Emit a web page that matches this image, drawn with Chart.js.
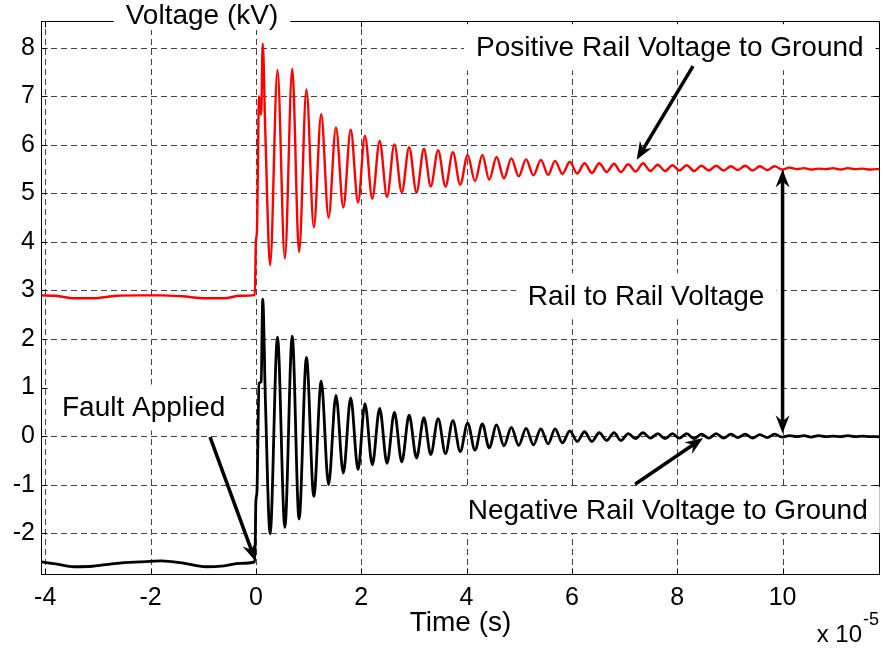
<!DOCTYPE html>
<html>
<head>
<meta charset="utf-8">
<title>Rail voltages after fault</title>
<script src="https://cdn.jsdelivr.net/npm/chart.js@4.4.0/dist/chart.umd.min.js"></script>
<style>
    html, body { margin: 0; padding: 0; background: #fff; }
    #wrap { width: 884px; height: 648px; }
</style>
</head>
<body>
<div id="wrap"><canvas id="rails" width="884" height="648"></canvas></div>
<script>
// time in units of 1e-5 s (peaks and troughs)
const timeAxis = [
    -4.08, -3.80, -3.45, -3.10, -2.65, -2.20, -1.80, -1.40, -0.95, -0.60, -0.30, -0.02,
    0.00, 0.02, 0.06, 0.10, 0.13, 0.18,
    0.27, 0.41, 0.55, 0.69, 0.82, 0.96, 1.10, 1.24, 1.38, 1.52, 1.66, 1.80,
    1.94, 2.07, 2.21, 2.35, 2.49, 2.63, 2.77, 2.91, 3.05, 3.19, 3.32, 3.46,
    3.60, 3.74, 3.88, 4.02, 4.16, 4.30, 4.43, 4.57, 4.71, 4.85, 4.99, 5.13,
    5.27, 5.41, 5.55, 5.68, 5.82, 5.96, 6.10, 6.24, 6.38, 6.52, 6.66, 6.80,
    6.93, 7.07, 7.21, 7.35, 7.49, 7.63, 7.77, 7.91, 8.04, 8.18, 8.32, 8.46,
    8.60, 8.74, 8.88, 9.02, 9.15, 9.29, 9.43, 9.57, 9.71, 9.85, 9.99, 10.13,
    10.27, 10.41, 10.54, 10.68, 10.82, 10.96, 11.10, 11.24, 11.38, 11.52, 11.65, 11.79,
    11.85
];

// kV
const positiveRail = [
    2.90, 2.89, 2.84, 2.84, 2.89, 2.90, 2.90, 2.88, 2.84, 2.84, 2.89, 2.91,
    4.00, 4.22, 7.00, 6.62, 8.08, 6.22,
    3.52, 7.54, 3.66, 7.57, 3.79, 7.14, 4.30, 6.63, 4.50, 6.36, 4.71, 6.31,
    4.81, 6.19, 4.89, 6.08, 4.93, 6.01, 5.02, 5.95, 5.02, 5.92, 5.14, 5.89,
    5.14, 5.85, 5.18, 5.79, 5.25, 5.79, 5.28, 5.75, 5.31, 5.72, 5.35, 5.70,
    5.37, 5.69, 5.38, 5.67, 5.40, 5.65, 5.41, 5.62, 5.42, 5.62, 5.44, 5.61,
    5.44, 5.60, 5.45, 5.62, 5.46, 5.59, 5.46, 5.58, 5.47, 5.58, 5.46, 5.57,
    5.47, 5.57, 5.47, 5.56, 5.48, 5.57, 5.47, 5.56, 5.48, 5.56, 5.49, 5.53,
    5.50, 5.52, 5.49, 5.51, 5.50, 5.52, 5.49, 5.52, 5.50, 5.51, 5.49, 5.50,
    5.50
];

const negativeRail = [
    -2.59, -2.63, -2.69, -2.68, -2.62, -2.59, -2.57, -2.61, -2.69, -2.67, -2.62, -2.59,
    -1.34, -1.15, 1.09, 1.12, 2.82, 0.76,
    -2.01, 2.04, -1.88, 2.06, -1.71, 1.62, -1.24, 1.13, -1.00, 0.84, -0.76, 0.79,
    -0.69, 0.67, -0.59, 0.57, -0.56, 0.49, -0.53, 0.43, -0.45, 0.38, -0.38, 0.36,
    -0.36, 0.32, -0.32, 0.27, -0.29, 0.25, -0.24, 0.23, -0.20, 0.18, -0.19, 0.16,
    -0.18, 0.15, -0.16, 0.15, -0.14, 0.11, -0.11, 0.09, -0.11, 0.07, -0.09, 0.07,
    -0.09, 0.05, -0.05, 0.07, -0.04, 0.05, -0.05, 0.05, -0.04, 0.05, -0.05, 0.04,
    -0.04, 0.05, -0.04, 0.04, -0.03, 0.04, -0.04, 0.03, -0.03, 0.04, -0.02, 0.01,
    -0.01, 0.01, -0.02, 0.01, -0.01, 0.00, -0.01, 0.01, -0.01, 0.00, -0.01, -0.01,
    -0.02
];

const timeTicks = [-4, -2, 0, 2, 4, 6, 8, 10];
const voltageTicks = [-2, -1, 0, 1, 2, 3, 4, 5, 6, 7, 8];

const FONT = 'Arial, "Liberation Sans", Helvetica, sans-serif';

// text annotations, centred at data positions
const notes = [
    { text: 'Positive Rail Voltage to Ground', x: 7.86, y: 8.01 },
    { text: 'Rail to Rail Voltage', x: 7.41, y: 2.88 },
    { text: 'Fault Applied', x: -2.13, y: 0.59 },
    { text: 'Negative Rail Voltage to Ground', x: 7.82, y: -1.52 },
];

// arrows, from tail to tip (data units)
const arrows = [
    { from: [8.30, 7.62], to: [7.23, 5.69], both: false },
    { from: [-0.87, -0.02], to: [-0.01, -2.57], both: false },
    { from: [7.20, -0.99], to: [8.49, -0.04], both: false },
    { from: [10.0, 0.06], to: [10.0, 5.49], both: true },
];

function arrowHead(ctx, x, y, ang) {
    ctx.save();
    ctx.translate(x, y);
    ctx.rotate(ang);
    ctx.beginPath();
    ctx.moveTo(0, 0);
    ctx.lineTo(-18, -7);
    ctx.lineTo(-12, 0);
    ctx.lineTo(-18, 7);
    ctx.closePath();
    ctx.fill();
    ctx.restore();
}

function drawArrow(ctx, x1, y1, x2, y2, both) {
    const ang = Math.atan2(y2 - y1, x2 - x1);
    const dx = Math.cos(ang) * 12, dy = Math.sin(ang) * 12;
    ctx.beginPath();
    ctx.moveTo(both ? x1 + dx : x1, both ? y1 + dy : y1);
    ctx.lineTo(x2 - dx, y2 - dy);
    ctx.stroke();
    arrowHead(ctx, x2, y2, ang);
    if (both) arrowHead(ctx, x1, y1, ang + Math.PI);
}

// MATLAB-like grid, box, ticks and labels
const matlabLook = {
    id: 'matlabLook',
    beforeDatasetsDraw(chart) {
        const { ctx, chartArea: a, scales: { x, y } } = chart;
        ctx.save();
        ctx.strokeStyle = '#444';
        ctx.lineWidth = 1;
        ctx.setLineDash([6, 4]);
        timeTicks.forEach(v => {
            const px = Math.round(x.getPixelForValue(v)) + 0.5;
            ctx.beginPath();
            ctx.moveTo(px, a.bottom);
            ctx.lineTo(px, a.top);
            ctx.stroke();
        });
        voltageTicks.forEach(v => {
            const py = Math.round(y.getPixelForValue(v)) + 0.5;
            ctx.beginPath();
            ctx.moveTo(a.left, py);
            ctx.lineTo(a.right, py);
            ctx.stroke();
        });
        ctx.restore();
    },
    afterDatasetsDraw(chart) {
        const { ctx, chartArea: a, scales: { x, y } } = chart;
        ctx.save();

        // box and inward ticks
        const L = Math.round(a.left) + 0.5, R = Math.round(a.right) - 0.5;
        const T = Math.round(a.top) + 0.5, B = Math.round(a.bottom) - 0.5;
        ctx.strokeStyle = '#000';
        ctx.lineWidth = 1;
        ctx.strokeRect(L, T, R - L, B - T);
        ctx.beginPath();
        timeTicks.forEach(v => {
            const px = Math.round(x.getPixelForValue(v)) + 0.5;
            ctx.moveTo(px, B); ctx.lineTo(px, B - 6);
            ctx.moveTo(px, T); ctx.lineTo(px, T + 6);
        });
        voltageTicks.forEach(v => {
            const py = Math.round(y.getPixelForValue(v)) + 0.5;
            ctx.moveTo(L, py); ctx.lineTo(L + 6, py);
            ctx.moveTo(R, py); ctx.lineTo(R - 6, py);
        });
        ctx.stroke();

        // annotations with white boxes
        ctx.font = `28px ${FONT}`;
        ctx.textAlign = 'center';
        ctx.textBaseline = 'middle';
        notes.forEach(n => {
            const cx = x.getPixelForValue(n.x);
            const cy = y.getPixelForValue(n.y);
            const w = ctx.measureText(n.text).width;
            ctx.fillStyle = '#fff';
            ctx.fillRect(cx - w / 2 - 12, cy - 23, w + 24, 46);
            ctx.fillStyle = '#000';
            ctx.fillText(n.text, cx, cy + 1);
        });

        // arrows
        ctx.strokeStyle = '#000';
        ctx.fillStyle = '#000';
        ctx.lineWidth = 3.5;
        arrows.forEach(ar => {
            drawArrow(ctx,
                x.getPixelForValue(ar.from[0]), y.getPixelForValue(ar.from[1]),
                x.getPixelForValue(ar.to[0]), y.getPixelForValue(ar.to[1]),
                ar.both);
        });

        // y label on top of the box
        const title = 'Voltage (kV)';
        const tw = ctx.measureText(title).width;
        const tx = 202;
        ctx.fillStyle = '#fff';
        ctx.fillRect(tx - tw / 2 - 12, 0, tw + 24, 30);
        ctx.fillStyle = '#000';
        ctx.fillText(title, tx, 16);

        // x label and exponent
        ctx.fillText('Time (s)', (a.left + a.right) / 2, a.bottom + 48);
        ctx.font = `24px ${FONT}`;
        ctx.textAlign = 'right';
        ctx.fillText('x 10', 862, a.bottom + 60);
        ctx.font = `18px ${FONT}`;
        ctx.textAlign = 'left';
        ctx.fillText('-5', 863, a.bottom + 45);

        ctx.restore();
    },
};

const ctx = document.getElementById('rails').getContext('2d');

new Chart(ctx, {
    type: 'line',
    data: {
        datasets: [{
            label: 'Positive Rail Voltage to Ground',
            data: timeAxis.map((t, i) => ({ x: t, y: positiveRail[i] })),
            borderColor: '#ff0000',
            borderWidth: 2.4,
            pointRadius: 0,
            cubicInterpolationMode: 'monotone',
            fill: false,
        }, {
            label: 'Negative Rail Voltage to Ground',
            data: timeAxis.map((t, i) => ({ x: t, y: negativeRail[i] })),
            borderColor: '#000000',
            borderWidth: 2.8,
            pointRadius: 0,
            cubicInterpolationMode: 'monotone',
            fill: false,
        }],
    },
    options: {
        responsive: false,
        animation: false,
        devicePixelRatio: 1,
        events: [],
        layout: { padding: { top: 12, right: 4, left: 0, bottom: 0 } },
        plugins: {
            legend: { display: false },
            tooltip: { enabled: false },
        },
        scales: {
            x: {
                type: 'linear',
                min: -4.08,
                max: 11.85,
                grid: { display: false, drawTicks: false },
                border: { display: false },
                afterBuildTicks: s => { s.ticks = timeTicks.map(v => ({ value: v })); },
                afterFit: s => { s.height = 73; },
                ticks: {
                    color: '#000',
                    font: { family: FONT, size: 25 },
                    padding: 8,
                    maxRotation: 0,
                    autoSkip: false,
                    callback: v => String(v),
                },
            },
            y: {
                type: 'linear',
                min: -2.86,
                max: 8.55,
                grid: { display: false, drawTicks: false },
                border: { display: false },
                afterBuildTicks: s => { s.ticks = voltageTicks.map(v => ({ value: v })); },
                afterFit: s => { s.width = 41; },
                ticks: {
                    color: '#000',
                    font: { family: FONT, size: 25 },
                    padding: 6,
                    autoSkip: false,
                    callback: v => String(v),
                },
            },
        },
    },
    plugins: [matlabLook],
});
</script>
</body>
</html>
